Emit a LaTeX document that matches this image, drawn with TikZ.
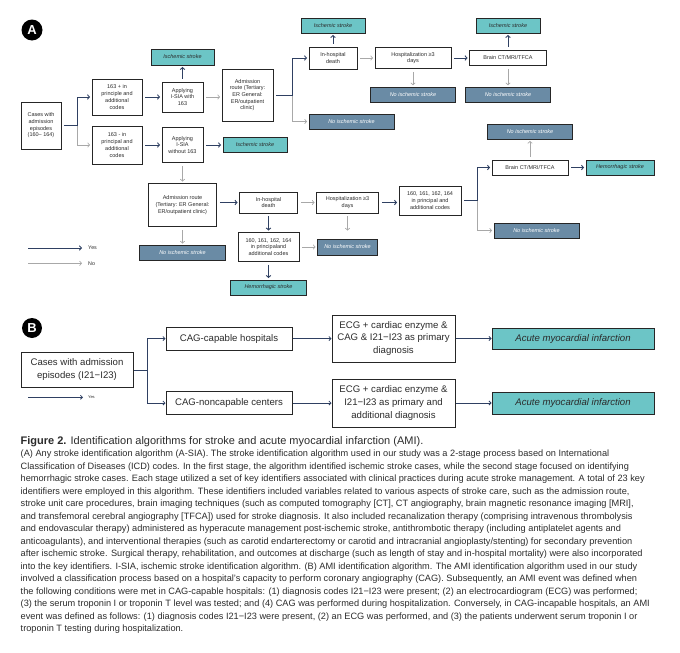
\documentclass[tikz,border=0pt]{standalone}
\usepackage{fontspec}
\setmainfont{Liberation Sans}
\usetikzlibrary{arrows.meta}
\definecolor{tealbox}{HTML}{6CC5C6}
\definecolor{slatebox}{HTML}{6A8BA5}
\definecolor{navyarr}{HTML}{2F4062}
\definecolor{grayarr}{HTML}{A8A8A8}
\definecolor{boxline}{HTML}{262626}
\definecolor{txt}{HTML}{2B2B2B}

\begin{document}
\begin{tikzpicture}[x=1pt,y=-1pt,
  sz/.style 2 args={minimum width=#1pt,minimum height=#2pt},
  box/.style={draw=boxline,line width=0.9pt,fill=white,align=center,inner sep=0.5pt,text=txt,font=\fontsize{5.5}{6.7}\selectfont},
  isch/.style={box,fill=tealbox,font=\fontsize{5.5}{6.7}\selectfont\itshape},
  noisch/.style={box,fill=slatebox,text=white,font=\fontsize{5.5}{6.7}\selectfont\itshape},
  yesarr/.style={draw=navyarr,line width=0.9pt,shorten <=3pt,shorten >=1.5pt,-{Straight Barb[length=2pt,width=4.5pt]}},
  noarr/.style={draw=grayarr,line width=0.7pt,shorten <=3pt,shorten >=1.5pt,-{Straight Barb[length=2pt,width=4.5pt]}},
  bbox/.style={draw=boxline,line width=1pt,fill=white,align=center,inner sep=1pt,text=txt,font=\fontsize{9.6}{12.8}\selectfont},
  oneline/.style={text height=7pt,text depth=2pt},
  ami/.style={bbox,oneline,fill=tealbox,font=\fontsize{9.6}{12.8}\selectfont\itshape},
  yesB/.style={draw=navyarr,line width=0.8pt,-{Straight Barb[length=2pt,width=4pt]}},
  badge/.style={circle,fill=black,text=white,inner sep=0pt,font=\bfseries\fontsize{13}{13}\selectfont}]
\useasboundingbox (0,0) rectangle (680,653);

% Panel A
\node[badge,minimum size=21pt] (labA) at (32,30) {A};

\node[box,sz={40}{47}] (cases) at (41,125.5) {Cases with\\admission\\episodes\\(160– 164)};
\node[box,sz={50}{36}] (posI63) at (117,97) {163 + in\\principle and\\additional\\codes};
\node[box,sz={50}{38}] (negI63) at (117,145) {163 - in\\principal and\\additional\\codes};
\node[box,sz={41}{30}] (applyW) at (182.5,97) {Applying\\I-SIA with\\163};
\node[box,sz={41}{35}] (applyWo) at (182.5,145) {Applying\\I-SIA\\without 163};
\node[isch,sz={63}{16}] (isch1) at (182.5,57) {Ischemic stroke};
\node[isch,sz={64}{15}] (isch2) at (255,145) {Ischemic stroke};
\node[box,sz={51}{52}] (adm1) at (247.5,95) {Admission\\route (Tertiary:\\ER General:\\ER/outpatient\\clinic)};
\node[box,sz={48}{22}] (death1) at (333,58) {In-hospital\\death};
\node[isch,sz={64}{15}] (isch3) at (333,25.5) {Ischemic stroke};
\node[box,sz={76}{21}] (hosp1) at (413,58) {Hospitalization ≥3\\days};
\node[noisch,sz={85}{15}] (noisch1) at (413,94.7) {No ischemic stroke};
\node[box,sz={77}{15}] (brain1) at (508,58) {Brain CT/MRI/TFCA};
\node[isch,sz={64}{15}] (isch4) at (508,25.5) {Ischemic stroke};
\node[noisch,sz={85}{15}] (noisch2) at (508,94.7) {No ischemic stroke};
\node[noisch,sz={85}{15}] (noisch3) at (351.5,121.5) {No ischemic stroke};

\node[box,sz={68}{43}] (adm2) at (182.5,205) {Admission route\\(Tertiary: ER General:\\ER/outpatient clinic)};
\node[noisch,sz={86}{15}] (noisch4) at (182.5,253) {No ischemic stroke};
\node[box,sz={58}{21}] (death2) at (268.5,202.5) {In-hospital\\death};
\node[box,sz={62}{21}] (hosp2) at (347.5,202.5) {Hospitalization ≥3\\days};
\node[box,sz={62}{29}] (codes1) at (430,200.5) {160, 161, 162, 164\\in principal and\\additional codes};
\node[box,sz={61}{29}] (codes2) at (268.5,247) {160, 161, 162, 164\\in principaland\\additional codes};
\node[noisch,sz={60}{16}] (noisch5) at (347.5,247) {No ischemic stroke};
\node[isch,sz={76}{15}] (hem1) at (268.5,287.5) {Hemorrhagic stroke};
\node[box,sz={76}{15}] (brain2) at (530,167.5) {Brain CT/MRI/TFCA};
\node[noisch,sz={85}{15}] (noisch6) at (530,131.5) {No ischemic stroke};
\node[noisch,sz={85}{15}] (noisch7) at (536.5,230.5) {No ischemic stroke};
\node[isch,sz={68}{15}] (hem2) at (620,167.5) {Hemorrhagic stroke};

% first stage
\coordinate (jA) at (77,125.5);
\draw[noarr,shorten <=0pt] (jA) |- (negI63.west);
\draw[yesarr] (cases.east) -- (jA) |- (posI63.west);
\draw[yesarr] (posI63) -- (applyW);
\draw[yesarr] (negI63) -- (applyWo);
\draw[yesarr] (applyW) -- (isch1);
\draw[yesarr] (applyWo) -- (isch2);
\draw[noarr] (applyW.east) -- (applyW.east -| adm1.west);
\coordinate (jB) at (292,95);
\draw[noarr,shorten <=0pt] (jB) |- (noisch3.west);
\draw[yesarr] (adm1.east |- jB) -- (jB) |- (death1.west);
\draw[yesarr] (death1) -- (isch3);
\draw[noarr] (death1) -- (hosp1);
\draw[noarr] (hosp1) -- (noisch1);
\draw[yesarr] (hosp1) -- (brain1);
\draw[yesarr] (brain1) -- (isch4);
\draw[noarr] (brain1) -- (noisch2);

% second stage
\draw[noarr] (applyWo) -- (adm2);
\draw[noarr] (adm2) -- (noisch4);
\draw[yesarr] (adm2.east |- death2.west) -- (death2.west);
\draw[noarr] (death2) -- (hosp2);
\draw[yesarr] (hosp2.east) -- (hosp2.east -| codes1.west);
\draw[yesarr] (death2) -- (codes2);
\draw[noarr] (codes2) -- (noisch5);
\draw[noarr,shorten >=8pt] (hosp2) -- (noisch5);
\draw[yesarr] (codes2) -- (hem1);
\coordinate (jC) at (477,200.5);
\draw[noarr,shorten <=0pt] (jC) |- (noisch7.west);
\draw[yesarr] (codes1.east |- jC) -- (jC) |- (brain2.west);
\draw[noarr] (brain2) -- (noisch6);
\draw[yesarr] (brain2) -- (hem2);

% Legend A
\node[anchor=west,inner sep=0pt,text=txt,font=\fontsize{5.3}{6}\selectfont] (yesA) at (88,248) {Yes};
\node[anchor=west,inner sep=0pt,text=txt,font=\fontsize{5.3}{6}\selectfont] (noA) at (88,263.3) {No};
\coordinate (yesA0) at (28,248);
\coordinate (noA0) at (28,263.3);
\draw[yesarr,shorten <=0pt,shorten >=6pt] (yesA0) -- (yesA.west);
\draw[noarr,shorten <=0pt,shorten >=6pt] (noA0) -- (noA.west);

% Panel B
\node[badge,minimum size=20pt] (labB) at (32,328) {B};

\node[bbox,sz={112}{35}] (casesB) at (77,369.5) {Cases with admission\\episodes (I21−I23)};
\node[bbox,oneline,sz={126}{23}] (cagYes) at (229,338.5) {CAG-capable hospitals};
\node[bbox,oneline,sz={126}{23}] (cagNo) at (229,403) {CAG-noncapable centers};
\node[bbox,sz={123}{47}] (ecg1) at (393.5,338.5) {ECG + cardiac enzyme \&\\CAG \& I21−I23 as primary\\diagnosis};
\node[bbox,sz={123}{48}] (ecg2) at (393.5,403) {ECG + cardiac enzyme \&\\I21−I23 as primary and\\additional diagnosis};
\node[ami,sz={162}{21}] (ami1) at (573,338.5) {Acute myocardial infarction};
\node[ami,sz={162}{22}] (ami2) at (573,403) {Acute myocardial infarction};

\coordinate (jD) at (147,370);
\draw[yesB] (casesB.east |- jD) -- (jD) |- (cagYes.west);
\draw[yesB] (jD) |- (cagNo.west);
\draw[yesB] (cagYes) -- (ecg1);
\draw[yesB] (cagNo) -- (ecg2);
\draw[yesB] (ecg1) -- (ami1);
\draw[yesB] (ecg2) -- (ami2);

% Legend B
\node[anchor=west,inner sep=0pt,text=txt,font=\fontsize{4}{5}\selectfont] (yesB) at (88,397.3) {Yes};
\coordinate (yesB0) at (28,397.3);
\draw[yesB,shorten >=5pt] (yesB0) -- (yesB.west);

% Caption
\node[anchor=base west,inner sep=0pt,text=txt,font=\fontsize{11}{12}\selectfont] (capTitle) at (20.5,444.8)
  {\textbf{Figure 2.} Identification algorithms for stroke and acute myocardial infarction (AMI).};
\foreach \capline [count=\i] in {
  {(A) Any stroke identification algorithm (A-SIA). The stroke identification algorithm used in our study was a 2-stage process based on International},
  {Classification of Diseases (ICD) codes. In the first stage, the algorithm identified ischemic stroke cases, while the second stage focused on identifying},
  {hemorrhagic stroke cases. Each stage utilized a set of key identifiers associated with clinical practices during acute stroke management. A total of 23 key},
  {identifiers were employed in this algorithm. These identifiers included variables related to various aspects of stroke care, such as the admission route,},
  {stroke unit care procedures, brain imaging techniques (such as computed tomography [CT], CT angiography, brain magnetic resonance imaging [MRI],},
  {and transfemoral cerebral angiography [TFCA]) used for stroke diagnosis. It also included recanalization therapy (comprising intravenous thrombolysis},
  {and endovascular therapy) administered as hyperacute management post-ischemic stroke, antithrombotic therapy (including antiplatelet agents and},
  {anticoagulants), and interventional therapies (such as carotid endarterectomy or carotid and intracranial angioplasty/stenting) for secondary prevention},
  {after ischemic stroke. Surgical therapy, rehabilitation, and outcomes at discharge (such as length of stay and in-hospital mortality) were also incorporated},
  {into the key identifiers. I-SIA, ischemic stroke identification algorithm. (B) AMI identification algorithm. The AMI identification algorithm used in our study},
  {involved a classification process based on a hospital’s capacity to perform coronary angiography (CAG). Subsequently, an AMI event was defined when},
  {the following conditions were met in CAG-capable hospitals: (1) diagnosis codes I21−I23 were present; (2) an electrocardiogram (ECG) was performed;},
  {(3) the serum troponin I or troponin T level was tested; and (4) CAG was performed during hospitalization. Conversely, in CAG-incapable hospitals, an AMI},
  {event was defined as follows: (1) diagnosis codes I21−I23 were present, (2) an ECG was performed, and (3) the patients underwent serum troponin I or},
  {troponin T testing during hospitalization.}}
  \node[anchor=base west,inner sep=0pt,text=txt,font=\fontsize{9.2}{10}\selectfont] (cap\i) at (20.5,{456.8+12.5*(\i-1)}) {\capline};
\end{tikzpicture}
\end{document}
